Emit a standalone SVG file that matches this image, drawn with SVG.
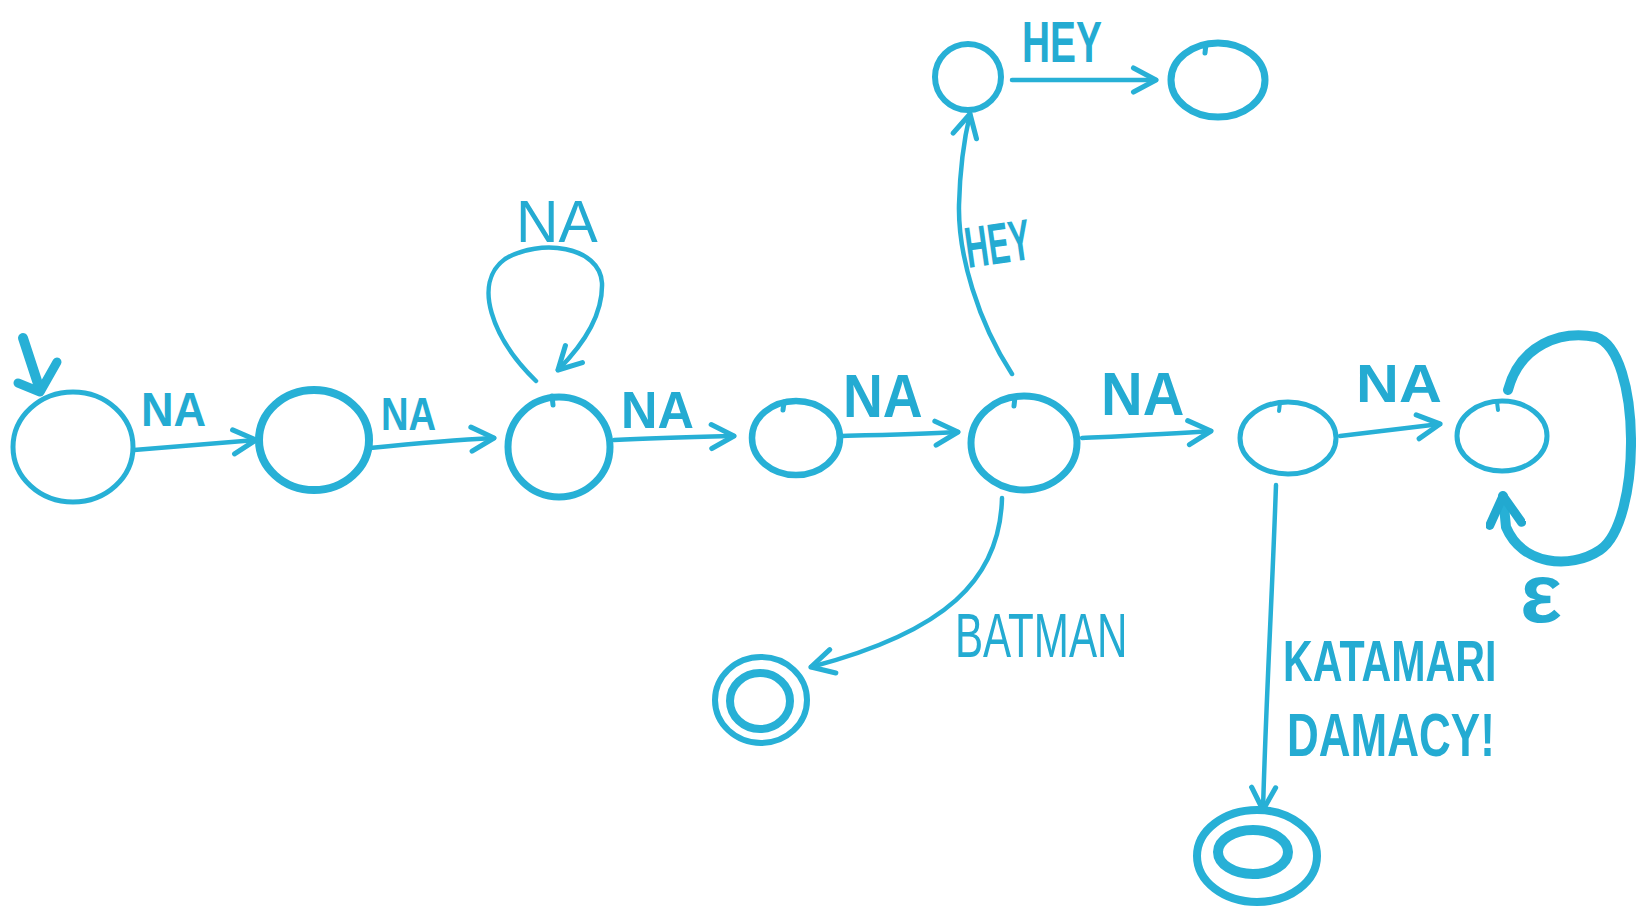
<svg xmlns="http://www.w3.org/2000/svg" width="1636" height="907" viewBox="0 0 1636 907">
  <defs>
    <style>
      .st { fill: none; stroke: #27b0d6; stroke-linecap: round; stroke-linejoin: round; }
      .edge { fill: none; stroke: #27b0d6; stroke-width: 4.5; stroke-linecap: round; stroke-linejoin: round; }
      .lbl { fill: #24abd2; font-family: "Liberation Sans", "DejaVu Sans", sans-serif; font-weight: bold; }
      .thin { font-weight: normal; }
    </style>
    <marker id="chev" viewBox="0 0 20 20" refX="18" refY="10" markerWidth="30" markerHeight="30" markerUnits="userSpaceOnUse" orient="auto">
      <path d="M3,2 L18,10 L3,18" fill="none" stroke="#27b0d6" stroke-width="3.4" stroke-linecap="round" stroke-linejoin="round"/>
    </marker>
    <marker id="chevBig" viewBox="0 0 20 20" refX="17" refY="10" markerWidth="40" markerHeight="40" markerUnits="userSpaceOnUse" orient="auto">
      <path d="M3,2 L17,10 L3,18" fill="none" stroke="#22a9d0" stroke-width="4.5" stroke-linecap="round" stroke-linejoin="round"/>
    </marker>
  </defs>
  <rect width="1636" height="907" fill="#ffffff"/>

  <!-- transitions -->
  <g id="connectors">
    <!-- start marker -->
    <path class="st" d="M23,338 L40,390" stroke-width="10"/>
    <path class="st" d="M18,383 L40,392 L57,362" stroke-width="9"/>
    <!-- main chain -->
    <path class="edge" d="M134,450 C180,446 220,443 256,440" marker-end="url(#chev)"/>
    <path class="edge" d="M370,448 C410,444 455,440 494,438" marker-end="url(#chev)"/>
    <path class="edge" d="M614,440 C655,438 695,437 734,436" marker-end="url(#chev)"/>
    <path class="edge" d="M842,436 C880,435 920,434 958,432" marker-end="url(#chev)"/>
    <path class="edge" d="M1082,438 C1125,436 1170,434 1211,431" marker-end="url(#chev)"/>
    <path class="edge" d="M1340,436 C1375,432 1408,428 1440,424" marker-end="url(#chev)"/>
    <!-- self loop NA -->
    <path class="edge" d="M536,381 C492,338 472,283 505,259 C540,238 600,246 602,283 C603,312 586,342 558,370" marker-end="url(#chev)" stroke-width="6"/>
    <!-- HEY branch up -->
    <path class="edge" d="M1012,374 C978,322 958,255 959,205 C960,165 965,135 970,114" marker-end="url(#chev)" stroke-width="3.5"/>
    <path class="edge" d="M1012,80 L1156,80" marker-end="url(#chev)" stroke-width="5"/>
    <!-- BATMAN branch -->
    <path class="edge" d="M1002,498 C1000,580 945,632 811,667" marker-end="url(#chev)" stroke-width="4"/>
    <!-- KATAMARI DAMACY branch -->
    <path class="edge" d="M1276,485 C1272,600 1266,700 1263,810" marker-end="url(#chev)" stroke-width="3.5"/>
    <!-- epsilon loop -->
    <path class="st" d="M1508,390 C1520,345 1560,330 1596,337 C1642,352 1642,522 1600,550 C1570,570 1522,565 1506,527 L1503,496" stroke-width="10" marker-end="url(#chevBig)"/>
  </g>

  <!-- states -->
  <g id="s0">
    <ellipse class="st" cx="73" cy="447" rx="60" ry="55" stroke-width="5"/>
  </g>
  <g id="s1">
    <ellipse class="st" cx="314" cy="440" rx="55" ry="50" stroke-width="8"/>
  </g>
  <g id="s2">
    <ellipse class="st" cx="559" cy="447" rx="51" ry="50" stroke-width="7"/>
    <path class="st" d="M552,396 L553,405" stroke-width="5"/>
  </g>
  <g id="s3">
    <ellipse class="st" cx="796" cy="438" rx="44" ry="37" stroke-width="6.5"/>
    <path class="st" d="M784,402 L783,410" stroke-width="5"/>
  </g>
  <g id="s4">
    <ellipse class="st" cx="1024" cy="443" rx="53" ry="47" stroke-width="7"/>
    <path class="st" d="M1015,397 L1014,406" stroke-width="5"/>
  </g>
  <g id="s5">
    <ellipse class="st" cx="968" cy="77" rx="33" ry="33" stroke-width="6"/>
  </g>
  <g id="s6">
    <ellipse class="st" cx="1218" cy="80" rx="47" ry="37" stroke-width="7"/>
    <path class="st" d="M1206,44 L1205,53" stroke-width="5"/>
  </g>
  <g id="s7">
    <ellipse class="st" cx="1288" cy="438" rx="48" ry="36" stroke-width="5"/>
    <path class="st" d="M1280,403 L1279,411" stroke-width="4"/>
  </g>
  <g id="s8">
    <ellipse class="st" cx="1502" cy="436" rx="45" ry="35" stroke-width="5"/>
    <path class="st" d="M1497,402 L1498,410" stroke-width="4"/>
  </g>
  <g id="f0">
    <ellipse class="st" cx="761" cy="700" rx="46" ry="43" stroke-width="6"/>
    <ellipse class="st" cx="760" cy="701" rx="30" ry="28" stroke-width="8"/>
  </g>
  <g id="f1">
    <ellipse class="st" cx="1257" cy="856" rx="60" ry="46" stroke-width="8"/>
    <ellipse class="st" cx="1253" cy="852" rx="35" ry="22" stroke-width="10"/>
  </g>

  <!-- transition labels (condensed by horizontal scaling) -->
  <g id="labels">
    <text class="lbl" font-size="48" transform="translate(141,426) scale(0.94,1)">NA</text>
    <text class="lbl" font-size="46" transform="translate(381,430) scale(0.83,1)">NA</text>
    <text class="lbl" font-size="52" transform="translate(621,428) scale(0.97,1)">NA</text>
    <text class="lbl" font-size="62" transform="translate(843,417) scale(0.89,1)">NA</text>
    <text class="lbl" font-size="62" transform="translate(1101,415) scale(0.93,1)">NA</text>
    <text class="lbl" font-size="54" transform="translate(1356,402) scale(1.1,1)">NA</text>
    <text class="lbl thin" font-size="60" transform="translate(516,242) scale(0.98,1)">NA</text>
    <text class="lbl" font-size="58" transform="translate(1022,62) scale(0.67,1)">HEY</text>
    <text class="lbl" font-size="58" transform="translate(968,268) rotate(-8) scale(0.55,1)">HEY</text>
    <text class="lbl thin" font-size="62" transform="translate(955,657) scale(0.68,1)">BATMAN</text>
    <text class="lbl" font-size="58" transform="translate(1283,681) scale(0.71,1)">KATAMARI</text>
    <text class="lbl" font-size="62" transform="translate(1287,756) scale(0.71,1)">DAMACY!</text>
    <text class="lbl" font-size="84" transform="translate(1520,622) scale(1.05,1)">ε</text>
  </g>
</svg>
